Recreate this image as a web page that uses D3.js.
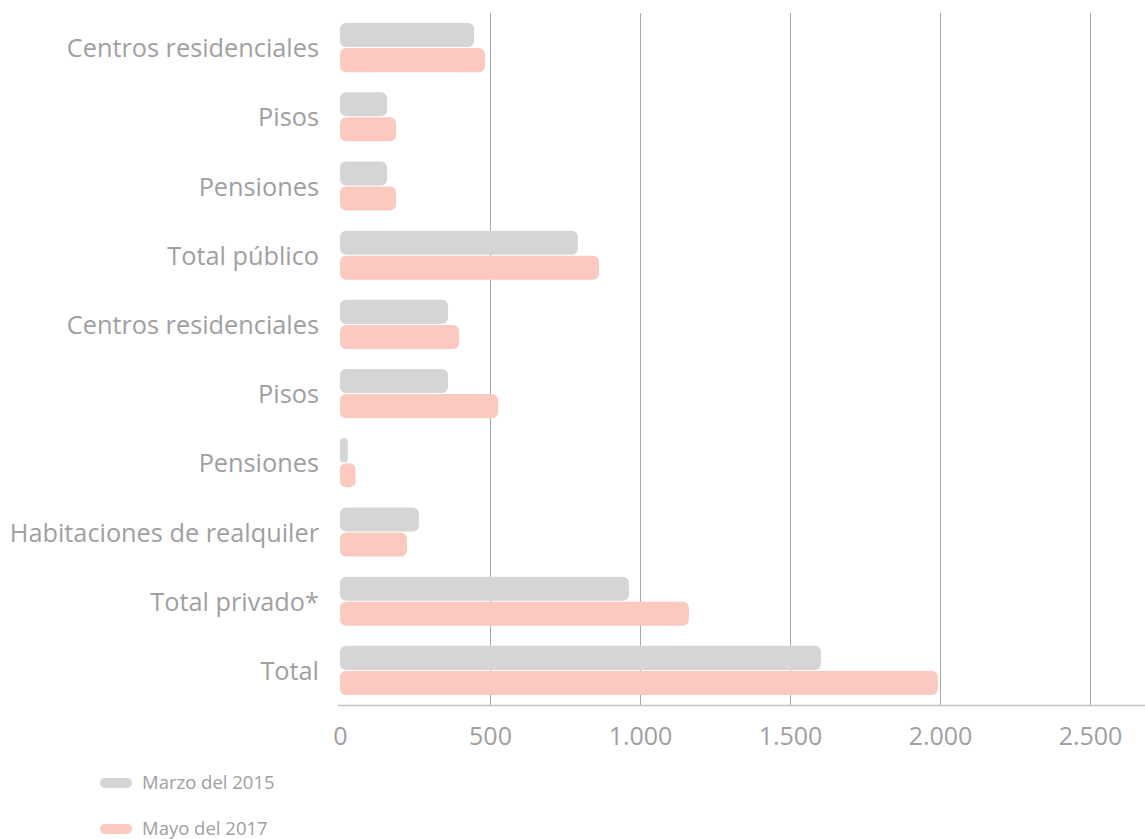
<!DOCTYPE html>
<html>
<head>
<meta charset="utf-8">
<script src="https://cdn.jsdelivr.net/npm/d3@7"></script>
<style>
  body { margin: 0; background: #fff; }
  text { font-family: "Open Sans", "Noto Sans", sans-serif; fill: #a0a0a0; }
</style>
</head>
<body>
<svg id="chart"></svg>
<script>
// categories, top to bottom
var categories = ["Centros residenciales", "Pisos", "Pensiones", "Total público",
    "Centros residenciales", "Pisos", "Pensiones", "Habitaciones de realquiler",
    "Total privado*", "Total"];
var series = ["Marzo del 2015", "Mayo del 2017"];
var marzo2015 = [447, 157, 157, 793, 360, 360, 26, 263, 963, 1603];
var mayo2017 = [483, 187, 187, 863, 397, 527, 52, 223, 1163, 1993];
var xTicks = [0, 500, 1000, 1500, 2000, 2500];
var colors = ["#d5d5d5", "#fbc9bf"];

var cfg = {
    width: 1145,
    height: 839,
    left: 340,
    right: 1145,
    top: 13,
    bottom: 705
};

var svg = d3.select("#chart").attr("width", cfg.width).attr("height", cfg.height);

var x = d3.scaleLinear().domain([0, 2500]).range([cfg.left, cfg.left + 750]);
var y = d3.scaleBand().domain(d3.range(categories.length))
    .range([cfg.top, cfg.bottom]).paddingInner(0.29).paddingOuter(0.145);
var ySub = d3.scaleBand().domain([0, 1]).range([0, y.bandwidth()]).paddingInner(0.04);

// grid lines
svg.append("g").selectAll("line")
    .data(xTicks.slice(1))
    .enter().append("line")
    .attr("x1", function (d) { return x(d) + 0.5; })
    .attr("x2", function (d) { return x(d) + 0.5; })
    .attr("y1", cfg.top)
    .attr("y2", cfg.bottom)
    .attr("stroke", "#a8a8a8")
    .attr("stroke-width", 1);

// bars
var data = categories.map(function (c, i) {
    return { i: i, values: [marzo2015[i], mayo2017[i]] };
});
var groups = svg.append("g").selectAll("g")
    .data(data)
    .enter().append("g")
    .attr("transform", function (d) { return "translate(0," + y(d.i) + ")"; });
groups.selectAll("rect")
    .data(function (d) { return d.values; })
    .enter().append("rect")
    .attr("x", x(0))
    .attr("y", function (d, j) { return ySub(j); })
    .attr("width", function (d) { return x(d) - x(0); })
    .attr("height", ySub.bandwidth())
    .attr("rx", function (d) { return Math.min(6, (x(d) - x(0)) / 2.5); })
    .attr("fill", function (d, j) { return colors[j]; });

// category labels
svg.append("g").selectAll("text")
    .data(categories)
    .enter().append("text")
    .attr("x", 319)
    .attr("y", function (d, i) { return y(i) + y.bandwidth() / 2; })
    .attr("dy", "0.38em")
    .attr("text-anchor", "end")
    .style("font-size", "25.3px")
    .text(function (d) { return d; });

// x axis
var fmt = function (d) { return d3.format(",")(d).replace(/,/g, "."); };
var xAxis = svg.append("g")
    .attr("transform", "translate(0," + cfg.bottom + ")")
    .call(d3.axisBottom(x).tickValues(xTicks).tickSize(0).tickPadding(22).tickFormat(fmt));
xAxis.select(".domain").remove();
xAxis.selectAll("text").style("font-size", "25px").attr("fill", "#a0a0a0");
svg.append("line")
    .attr("x1", 338).attr("x2", cfg.right)
    .attr("y1", cfg.bottom + 0.5).attr("y2", cfg.bottom + 0.5)
    .attr("stroke", "#c4c4c4").attr("stroke-width", 1.5);

// legend
var legend = svg.append("g").selectAll("g")
    .data(series)
    .enter().append("g")
    .attr("transform", function (d, i) { return "translate(100," + (783 + i * 46) + ")"; });
legend.append("rect")
    .attr("x", 0).attr("y", -5)
    .attr("width", 32).attr("height", 10).attr("rx", 5)
    .attr("fill", function (d, i) { return colors[i]; });
legend.append("text")
    .attr("x", 42).attr("dy", "0.35em")
    .style("font-size", "18.5px")
    .text(function (d) { return d; });
</script>
</body>
</html>
